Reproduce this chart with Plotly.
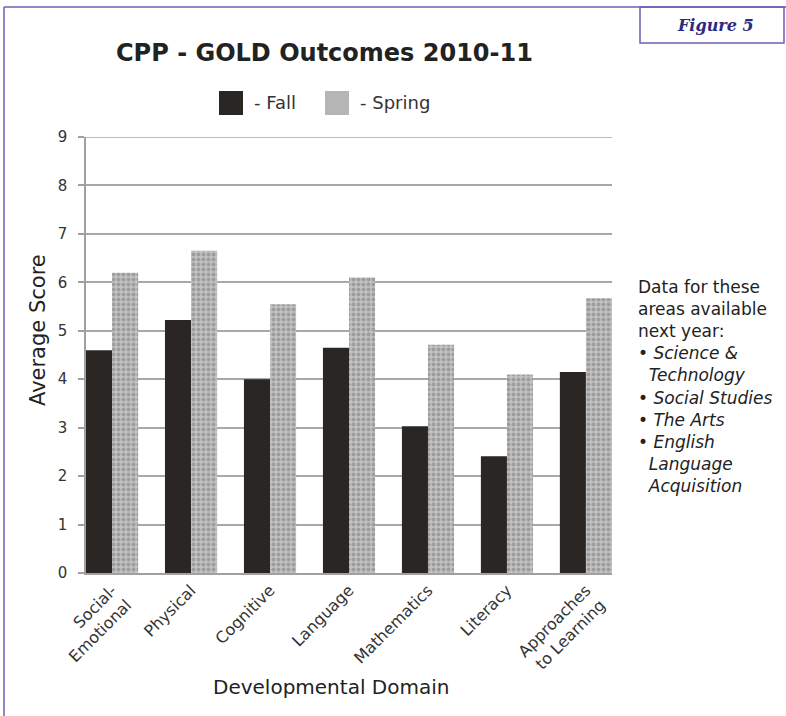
import plotly.graph_objects as go

categories = ["Social-<br>Emotional", "Physical", "Cognitive", "Language",
              "Mathematics", "Literacy", "Approaches<br>to Learning"]
fall = [4.6, 5.22, 4.0, 4.65, 3.03, 2.41, 4.15]
spring = [6.2, 6.65, 5.55, 6.1, 4.71, 4.1, 5.67]
y_ticks = [0, 1, 2, 3, 4, 5, 6, 7, 8, 9]

W, H = 786, 716
L, R, T, B = 86, 612, 137, 573  # plot area in pixels


def px(x):
    return (x - L) / (R - L)


def py(y):
    return (B - y) / (B - T)


FONT = "DejaVu Sans, Verdana, sans-serif"
FALL_COLOR = "#2a2623"
SPRING_BG = "#c2c2c2"
SPRING_FG = "#777777"
GRID = "#a8a8a8"

fig = go.Figure()
fig.add_trace(go.Bar(
    x=categories, y=fall, name="- Fall",
    marker=dict(color=FALL_COLOR, line=dict(width=0)),
    showlegend=False,
))
fig.add_trace(go.Bar(
    x=categories, y=spring, name="- Spring",
    marker=dict(color=SPRING_BG, line=dict(width=0),
                pattern=dict(shape=".", fgcolor=SPRING_FG, bgcolor=SPRING_BG,
                             size=5, solidity=0.5, fillmode="overlay")),
    showlegend=False,
))

shapes = []
# top gridline at the axis maximum
shapes.append(dict(type="line", xref="paper", yref="y", x0=0, x1=1,
                   y0=y_ticks[-1], y1=y_ticks[-1], line=dict(color=GRID, width=1.5),
                   layer="below"))
# outer page frame (left and top), purple
frame = "#6b5fb5"
shapes.append(dict(type="line", xref="paper", yref="paper",
                   x0=px(4), x1=px(4), y0=py(7), y1=py(716), line=dict(color=frame, width=1.5)))
shapes.append(dict(type="line", xref="paper", yref="paper",
                   x0=px(4), x1=px(786), y0=py(7), y1=py(7), line=dict(color=frame, width=1.5)))
# Figure 5 box
shapes.append(dict(type="rect", xref="paper", yref="paper",
                   x0=px(640), x1=px(784), y0=py(43), y1=py(7),
                   line=dict(color=frame, width=1.5), fillcolor="rgba(0,0,0,0)"))
# legend swatches
shapes.append(dict(type="rect", xref="paper", yref="paper",
                   x0=px(219), x1=px(243), y0=py(115), y1=py(91),
                   line=dict(width=0), fillcolor=FALL_COLOR))
shapes.append(dict(type="rect", xref="paper", yref="paper",
                   x0=px(325), x1=px(349), y0=py(115), y1=py(91),
                   line=dict(width=0), fillcolor="#b5b5b5"))

annotations = [
    dict(text="<b>CPP - GOLD Outcomes 2010-11</b>", x=px(324), y=py(53),
         xref="paper", yref="paper", showarrow=False, xanchor="center", yanchor="middle",
         font=dict(family=FONT, size=24, color="#222222")),
    dict(text="- Fall", x=px(252), y=py(103), xref="paper", yref="paper", showarrow=False,
         xanchor="left", yanchor="middle", font=dict(family=FONT, size=18, color="#333333")),
    dict(text="- Spring", x=px(358), y=py(103), xref="paper", yref="paper", showarrow=False,
         xanchor="left", yanchor="middle", font=dict(family=FONT, size=18, color="#333333")),
    dict(text="Average Score", x=px(38), y=py(330), xref="paper", yref="paper", showarrow=False,
         textangle=-90, xanchor="center", yanchor="middle",
         font=dict(family=FONT, size=21, color="#222222")),
    dict(text="Developmental Domain", x=px(331), y=py(687), xref="paper", yref="paper",
         showarrow=False, xanchor="center", yanchor="middle",
         font=dict(family=FONT, size=20, color="#222222")),
    dict(text="<b><i>Figure 5</i></b>", x=px(715), y=py(26), xref="paper", yref="paper",
         showarrow=False, xanchor="center", yanchor="middle",
         font=dict(family="DejaVu Serif, serif", size=16, color="#2a2a80")),
    dict(text=("Data for these<br>areas available<br>next year:<br>"
               "\u2022 <i>Science &amp;</i><br>\u00a0\u00a0<i>Technology</i><br>"
               "\u2022 <i>Social Studies</i><br>\u2022 <i>The Arts</i><br>"
               "\u2022 <i>English</i><br>\u00a0\u00a0<i>Language</i><br>"
               "\u00a0\u00a0<i>Acquisition</i>"),
         x=px(636), y=py(275), xref="paper", yref="paper", showarrow=False,
         xanchor="left", yanchor="top", align="left",
         font=dict(family=FONT, size=17, color="#222222")),
]

fig.update_layout(
    width=W, height=H,
    margin=dict(l=L, r=W - R, t=T, b=H - B, pad=0),
    paper_bgcolor="white", plot_bgcolor="white",
    barmode="group", bargap=0.34, bargroupgap=0,
    shapes=shapes, annotations=annotations,
    showlegend=False,
    font=dict(family=FONT, color="#333333"),
)
fig.update_xaxes(
    range=[-0.33, 6.33], tickangle=-45,
    showline=True, linecolor="#a0a0a0", linewidth=1.5,
    ticks="", showgrid=False,
    tickfont=dict(family=FONT, size=16, color="#333333"),
)
fig.update_yaxes(
    range=[0, 9], tickvals=y_ticks, ticktext=[str(v) for v in y_ticks],
    showline=True, linecolor="#a0a0a0", linewidth=1.5,
    ticks="outside", ticklen=6, tickcolor="#a0a0a0", tickwidth=1.5,
    ticklabelstandoff=8,
    showgrid=True, gridcolor=GRID, gridwidth=1.5,
    zeroline=False,
    tickfont=dict(family=FONT, size=15, color="#333333"),
)

fig.write_html("out.html")
